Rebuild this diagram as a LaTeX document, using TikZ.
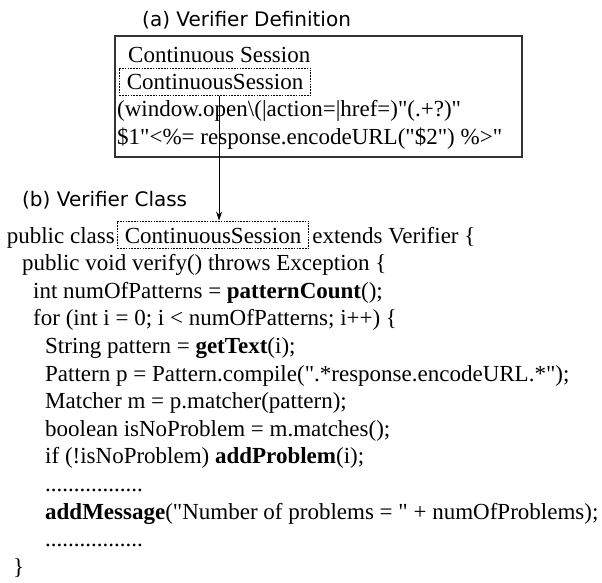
\documentclass[tikz,border=0pt]{standalone}
\usepackage{fontspec}
\setmainfont{Liberation Serif}[Ligatures=TeXOff]
\newfontfamily\labelfont{DejaVu Sans}
\usetikzlibrary{arrows.meta}
\tikzset{
  code/.style={anchor=base west,inner sep=0pt,font=\fontsize{23}{27}\selectfont},
  caption/.style={anchor=base west,inner sep=0pt,font=\labelfont\fontsize{20}{24}\selectfont},
  match/.style={draw,dash pattern=on 1.6pt off 1.2pt,line width=.8pt,inner xsep=7.5pt,inner ysep=4pt,text height=18pt,text depth=1.5pt},
  frame/.style={draw=black!80,line width=1.1pt,minimum width=407pt,minimum height=121pt,inner sep=0pt}
}
\begin{document}
\begin{tikzpicture}[x=1pt,y=-1pt]
\useasboundingbox (0,0) rectangle (602,583);
\node[caption] (capa) at (142,27) {(a) Verifier Definition};
\node[frame] (defbox) at (318.5,96.5) {};
\node[code] (defl1) at (128,63) {Continuous Session};
\node[code,match] (defname) at (119,90) {ContinuousSession};
\node[code] (defl3) at (117,117) {(window.open\textbackslash(|action=|href=)"(.+?)"};
\node[code] (defl4) at (117,144) {\$1"<\%= response.encodeURL("\$2") \%>"};
\node[caption] (capb) at (22,206) {(b) Verifier Class};
\node[code,match] (clsname) at (117,243) {ContinuousSession};
\node[code,anchor=base east] (cls1a) at ([xshift=-2pt]clsname.base west) {public class};
\node[code] (cls1b) at ([xshift=3pt]clsname.base east) {extends Verifier \{};
\node[code] (cls2) at (22,270.6) {public void verify() throws Exception \{};
\node[code] (cls3) at (33,298.2) {int numOfPatterns = \textbf{patternCount}();};
\node[code] (cls4) at (33,325.8) {for (int i = 0; i < numOfPatterns; i++) \{};
\node[code] (cls5) at (45,353.4) {String pattern = \textbf{getText}(i);};
\node[code] (cls6) at (45,381) {Pattern p = Pattern.compile(".*response.encodeURL.*");};
\node[code] (cls7) at (45,408.6) {Matcher m = p.matcher(pattern);};
\node[code] (cls8) at (45,436.2) {boolean isNoProblem = m.matches();};
\node[code] (cls9) at (45,463.8) {if (!isNoProblem) \textbf{addProblem}(i);};
\node[code] (cls10) at (45,491.4) {.................};
\node[code] (cls11) at (45,519) {\textbf{addMessage}("Number of problems = " + numOfProblems);};
\node[code] (cls12) at (45,546.6) {.................};
\node[code] (cls13) at (13,574.2) {\}};
\draw[-{Stealth[length=9pt,width=6pt]},line width=.8pt] ([xshift=4pt]defname.south) coordinate (tail) -- (tail |- clsname.north);
\end{tikzpicture}
\end{document}
